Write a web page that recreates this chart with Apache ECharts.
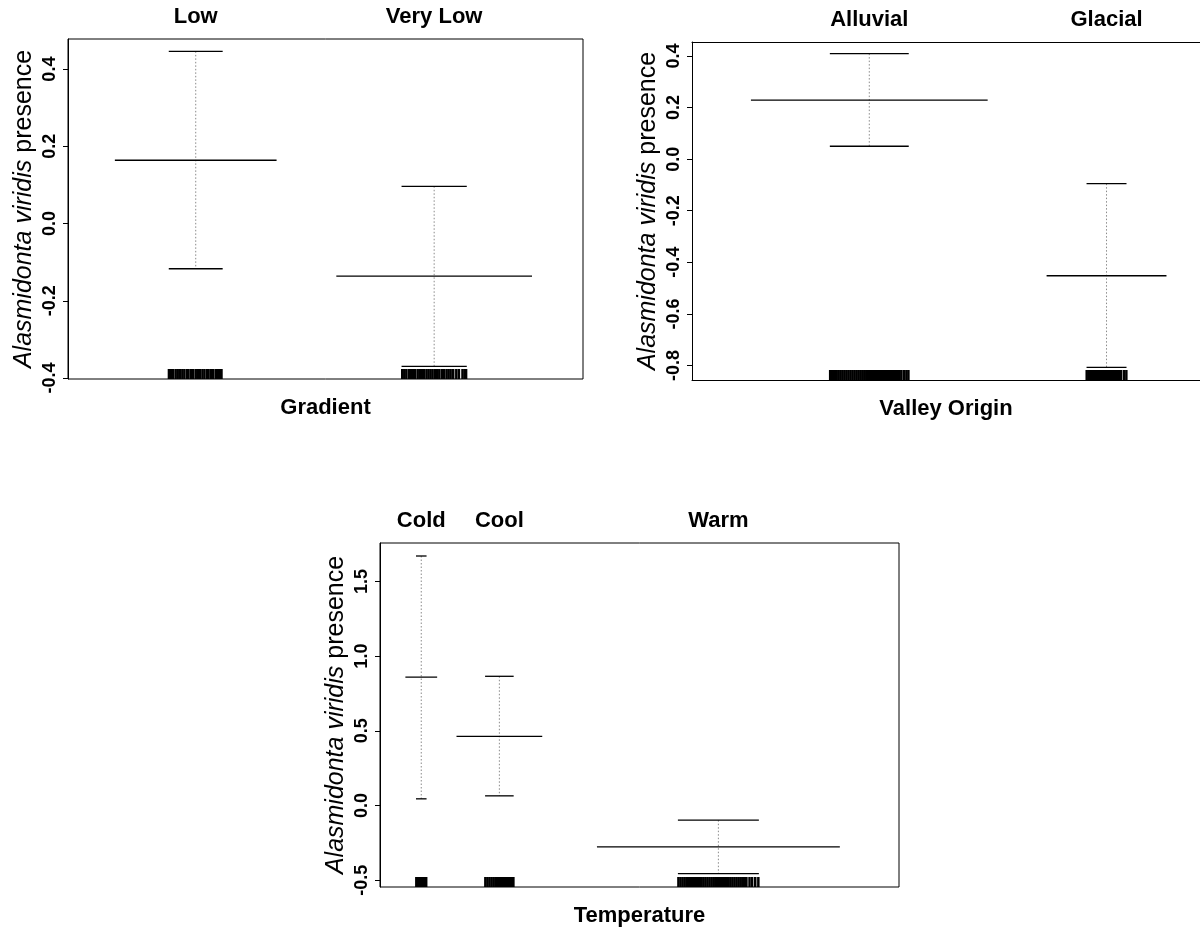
<!DOCTYPE html>
<html>
<head>
<meta charset="utf-8">
<script src="https://cdn.jsdelivr.net/npm/echarts@6/dist/echarts.min.js"></script>
<style>
html,body{margin:0;padding:0;background:#fff;}
#chart{width:1200px;height:932px;}
</style>
</head>
<body>
<div id="chart"></div>
<script>
// ---------- Panel 1: Gradient ----------
const gradCats = ['Low', 'Very Low'];
const gradX = [24.8, 71.1];            // level position on the x scale (0-100)
const gradHalf = [15.7, 19.0];         // half width of the effect segment (x units)
const gradMean = [0.164, -0.136];
const gradLower = [-0.117, -0.370];
const gradUpper = [0.446, 0.0965];
const gradTicks = [-0.4, -0.2, 0.0, 0.2, 0.4];
const gradRug = [
  [19.6,20.0,20.4,20.9,21.3,21.7,22.2,22.6,23.1,23.4,23.9,24.3,24.8,25.2,25.6,26.1,26.5,27.0,27.3,27.8,28.2,28.7,29.1,29.5,29.8],
  [64.9,65.3,65.7,66.2,66.6,67.0,67.4,67.9,68.3,68.7,69.1,69.6,70.0,70.4,70.8,71.3,71.7,72.1,72.6,73.0,73.5,73.9,74.3,74.8,75.4,75.9,76.6,77.0,77.3]
];

// ---------- Panel 2: Valley Origin ----------
const valleyCats = ['Alluvial', 'Glacial'];
const valleyX = [34.9, 81.6];
const valleyHalf = [23.3, 11.8];
const valleyMean = [0.229, -0.452];
const valleyLower = [0.050, -0.807];
const valleyUpper = [0.409, -0.095];
const valleyTicks = [-0.8, -0.6, -0.4, -0.2, 0.0, 0.2, 0.4];
const valleyRug = [
  [27.2,27.6,28.0,28.4,28.8,29.2,29.6,30.0,30.4,30.8,31.2,31.6,32.0,32.4,32.8,33.2,33.6,34.0,34.4,34.8,35.2,35.6,36.0,36.4,36.8,37.2,37.6,38.0,38.4,38.8,39.2,39.6,40.0,40.4,40.8,41.2,41.7,42.2,42.6],
  [77.7,78.1,78.5,78.9,79.3,79.7,80.1,80.5,80.9,81.3,81.7,82.1,82.5,82.9,83.3,83.7,84.1,84.4,85.0,85.5]
];

// ---------- Panel 3: Temperature ----------
const tempCats = ['Cold', 'Cool', 'Warm'];
const tempX = [7.95, 23.0, 65.2];
const tempHalf = [3.06, 8.26, 23.4];
const tempMean = [0.859, 0.4625, -0.277];
const tempLower = [0.045, 0.065, -0.456];
const tempUpper = [1.670, 0.865, -0.098];
const tempTicks = [-0.5, 0.0, 0.5, 1.0, 1.5];
const tempRug = [
  [7.0,7.3,7.6,7.9,8.3,8.6,8.9],
  [20.3,20.7,21.1,21.5,21.9,22.3,22.7,23.1,23.5,23.9,24.3,24.7,25.1,25.4,25.7],
  [57.5,57.9,58.3,58.7,59.1,59.5,59.9,60.3,60.7,61.1,61.5,61.9,62.3,62.7,63.1,63.5,63.9,64.3,64.7,65.1,65.5,65.9,66.3,66.7,67.1,67.5,67.9,68.3,68.7,69.1,69.5,69.9,70.3,70.6,71.2,71.7,72.3,72.9]
];

const FONT = '"Liberation Sans", Arial, Helvetica, sans-serif';

const panels = [
  { cats: gradCats, x: gradX, half: gradHalf, mean: gradMean, lower: gradLower, upper: gradUpper,
    ticks: gradTicks, rug: gradRug, title: 'Gradient', openRight: false,
    grid: { left: 68, top: 39, width: 515, height: 340 }, yMin: -0.4026, yMax: 0.478 },
  { cats: valleyCats, x: valleyX, half: valleyHalf, mean: valleyMean, lower: valleyLower, upper: valleyUpper,
    ticks: valleyTicks, rug: valleyRug, title: 'Valley Origin', openRight: true,
    grid: { left: 692, top: 42, width: 509, height: 338 }, yMin: -0.856, yMax: 0.454 },
  { cats: tempCats, x: tempX, half: tempHalf, mean: tempMean, lower: tempLower, upper: tempUpper,
    ticks: tempTicks, rug: tempRug, title: 'Temperature', openRight: false,
    grid: { left: 380, top: 543, width: 519, height: 344 }, yMin: -0.545, yMax: 1.757 }
];

const grids = [], xAxes = [], yAxes = [], series = [];

panels.forEach((p, k) => {
  grids.push(Object.assign({ show: !p.openRight, borderColor: '#000', borderWidth: 1, backgroundColor: 'transparent' }, p.grid));
  const xIdx = xAxes.length;
  xAxes.push({
    type: 'value', gridIndex: k, min: 0, max: 100, position: 'bottom',
    axisLine: { show: p.openRight, onZero: false, lineStyle: { color: '#000', width: 1 } },
    axisTick: { show: false }, axisLabel: { show: false }, splitLine: { show: false },
    name: p.title, nameLocation: 'middle', nameGap: 18,
    nameTextStyle: { fontFamily: FONT, fontSize: 22, fontWeight: 'bold', color: '#000', verticalAlign: 'top' }
  });
  if (p.openRight) {
    // top frame line of a panel whose right edge runs off the page
    xAxes.push({
      type: 'value', gridIndex: k, min: 0, max: 100, position: 'top',
      axisLine: { show: true, onZero: false, lineStyle: { color: '#000', width: 1 } },
      axisTick: { show: false }, axisLabel: { show: false }, splitLine: { show: false }
    });
  }
  yAxes.push({
    type: 'value', gridIndex: k, min: p.yMin, max: p.yMax,
    axisLine: { show: true, onZero: false, lineStyle: { color: '#000', width: 1 } },
    axisTick: { show: true, length: 5, lineStyle: { color: '#000' }, customValues: p.ticks },
    axisLabel: { show: true, customValues: p.ticks, rotate: 90, margin: 9,
      fontFamily: FONT, fontSize: 18, fontWeight: 'bold', color: '#000',
      formatter: v => Number(v).toFixed(1) },
    splitLine: { show: false },
    name: '{i|Alasmidonta viridis} {n|presence}',
    nameLocation: 'middle', nameRotate: 90, nameGap: 31,
    nameTextStyle: {
      fontFamily: FONT, fontSize: 25, color: '#000',
      rich: {
        i: { fontFamily: FONT, fontSize: 25, fontStyle: 'italic', color: '#000' },
        n: { fontFamily: FONT, fontSize: 25, color: '#000' }
      }
    }
  });

  // effect segments, confidence whiskers and level labels
  const effData = p.cats.map((c, i) => [p.x[i], p.mean[i], p.lower[i], p.upper[i], p.half[i]]);
  series.push({
    type: 'custom', xAxisIndex: xIdx, yAxisIndex: k, silent: true, clip: false,
    data: effData,
    renderItem: (params, api) => {
      const cx = api.value(0), m = api.value(1), lo = api.value(2), hi = api.value(3), hw = api.value(4);
      const capHw = hw / 3;
      const mL = api.coord([cx - hw, m]), mR = api.coord([cx + hw, m]);
      const hiL = api.coord([cx - capHw, hi]), hiR = api.coord([cx + capHw, hi]);
      const loL = api.coord([cx - capHw, lo]), loR = api.coord([cx + capHw, lo]);
      const cHi = api.coord([cx, hi]), cLo = api.coord([cx, lo]);
      const cs = params.coordSys;
      return {
        type: 'group',
        children: [
          { type: 'line', shape: { x1: cHi[0], y1: cHi[1], x2: cLo[0], y2: cLo[1] },
            style: { stroke: '#8a8a8a', lineWidth: 1, lineDash: [1.5, 2] } },
          { type: 'line', shape: { x1: mL[0], y1: mL[1], x2: mR[0], y2: mR[1] },
            style: { stroke: '#000', lineWidth: 1.3 } },
          { type: 'line', shape: { x1: hiL[0], y1: hiL[1], x2: hiR[0], y2: hiR[1] },
            style: { stroke: '#000', lineWidth: 1.3 } },
          { type: 'line', shape: { x1: loL[0], y1: loL[1], x2: loR[0], y2: loR[1] },
            style: { stroke: '#000', lineWidth: 1.3 } },
          { type: 'text', x: cHi[0], y: cs.y - 22,
            style: { text: p.cats[params.dataIndex], fontFamily: FONT, fontSize: 22, fontWeight: 'bold',
                     fill: '#000', align: 'center', verticalAlign: 'middle' } }
        ]
      };
    }
  });

  // rug of observations along the bottom of the panel
  const rugData = [];
  p.rug.forEach((arr, i) => arr.forEach(v => rugData.push([v, i])));
  series.push({
    type: 'custom', xAxisIndex: xIdx, yAxisIndex: k, silent: true, clip: false,
    data: rugData,
    renderItem: (params, api) => {
      const cs = params.coordSys;
      const x = api.coord([api.value(0), p.yMin])[0];
      const yb = cs.y + cs.height;
      return { type: 'line', shape: { x1: x, y1: yb, x2: x, y2: yb - 10 },
               style: { stroke: '#000', lineWidth: 2.5 } };
    }
  });
});

const chart = echarts.init(document.getElementById('chart'), null, { renderer: 'canvas' });
chart.setOption({
  animation: false,
  backgroundColor: '#fff',
  grid: grids, xAxis: xAxes, yAxis: yAxes, series: series
});
</script>
</body>
</html>
